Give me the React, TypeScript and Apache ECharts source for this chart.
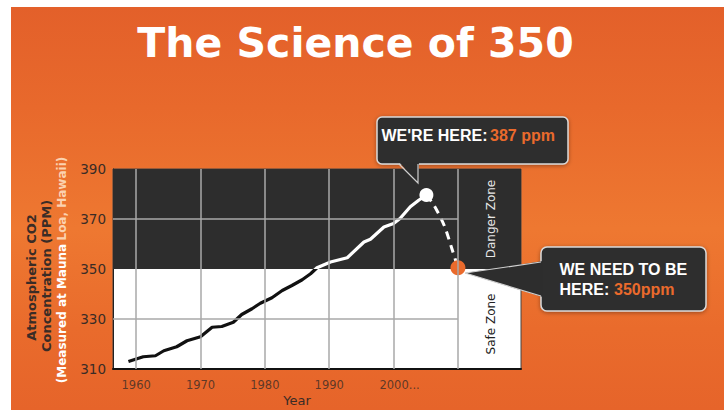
import React, { useEffect, useRef, useState } from 'react';
import * as echarts from 'echarts';

// ---- data ----
const co2Years = [1958.8, 1961.1, 1963.0, 1964.3, 1966.3, 1967.9, 1970.0, 1971.8, 1973.3, 1975.1, 1976.4, 1978.0, 1979.3, 1981.1, 1982.7, 1984.2, 1985.8, 1987.1, 1988.1, 1990.2, 1992.8, 1995.4, 1996.4, 1998.5, 2000.0, 2001.0, 2002.6, 2003.9, 2005.1];
const co2Ppm = [313.0, 314.9, 315.3, 317.3, 318.9, 321.3, 322.9, 326.7, 327.0, 328.7, 331.8, 334.1, 336.3, 338.5, 341.4, 343.4, 345.7, 348.1, 350.5, 352.8, 354.5, 360.8, 361.9, 366.8, 368.2, 370.2, 374.9, 377.5, 379.6];
const projYears = [2005.1, 2006.3, 2007.9, 2009.0, 2010.0];
const projPpm = [379.6, 375.4, 367.2, 358.6, 350.5];
const hereYear = 2005.1;
const herePpm = 379.6;
const targetYear = 2010.0;
const targetPpm = 350.5;
const xLabelYears = [1960, 1970, 1980, 1990, 2000];
const xGridYears = [1960, 1970, 1980, 1990, 2000, 2010];
const yGridValues = [330, 370];
const safeLimit = 350;
const X_MIN = 1956.4;
const X_MAX = 2019.8;
const ZONE_START = 2010;
const Y_MIN = 310;
const Y_MAX = 390;
const Y_STEP = 20;

const titleText = 'The Science of 350';
const hereLabel = "WE'RE HERE:";
const hereValue = '387 ppm';
const needLine1 = 'WE NEED TO BE';
const needLine2 = 'HERE:';
const needValue = '350ppm';

const FONT = '"DejaVu Sans", sans-serif';
const CALLOUT_FONT = '"Liberation Sans", Arial, sans-serif';
const DARK = '#2d2d2d';
const ORANGE = '#ea6a2c';
const LABEL = '#3a2c26';
const W = 724;
const H = 410;

export default function App() {
  const ref = useRef<HTMLDivElement>(null);
  const [err, setErr] = useState('');

  useEffect(() => {
    if (!ref.current) return;
    const chart = echarts.init(ref.current, undefined, { renderer: 'svg' });

    const co2Data = co2Years.map((y, i) => [y, co2Ppm[i]]);
    const projData = projYears.map((y, i) => [y, projPpm[i]]);

    const gridLineData: any[] = [
      ...xGridYears.map((v) => [{ coord: [v, Y_MIN] }, { coord: [v, Y_MAX] }]),
      ...yGridValues.map((v) => [{ coord: [X_MIN, v] }, { coord: [ZONE_START, v] }]),
    ];

    const calloutStroke = { stroke: '#d9d9d9', lineWidth: 1.5 };

    const option: any = {
      animation: false,
      backgroundColor: 'transparent',
      grid: {
        left: 113,
        top: 169,
        width: 408,
        height: 200,
        show: true,
        backgroundColor: '#ffffff',
        borderColor: '#444',
        borderWidth: 1,
      },
      xAxis: {
        type: 'value',
        min: X_MIN,
        max: X_MAX,
        name: 'Year',
        nameLocation: 'middle',
        nameGap: 25,
        nameTextStyle: { fontFamily: FONT, fontSize: 13, color: LABEL, padding: [0, 40, 0, 0] },
        axisLine: { show: true, lineStyle: { color: '#111', width: 2 } },
        axisTick: { show: false },
        splitLine: { show: false },
        axisLabel: { show: false },
      },
      yAxis: {
        type: 'value',
        min: Y_MIN,
        max: Y_MAX,
        interval: Y_STEP,
        axisLine: { show: true, lineStyle: { color: '#222', width: 1 } },
        axisTick: { show: false },
        splitLine: { show: false },
        axisLabel: { margin: 7, fontFamily: FONT, fontSize: 13.5, color: LABEL },
      },
      series: [
        {
          type: 'line',
          data: co2Data,
          z: 1,
          silent: true,
          showSymbol: false,
          lineStyle: { opacity: 0 },
          markArea: {
            silent: true,
            itemStyle: { color: DARK },
            data: [[{ coord: [X_MIN, safeLimit] }, { coord: [X_MAX, Y_MAX] }]],
          },
        },
        {
          type: 'line',
          data: co2Data,
          z: 2,
          silent: true,
          showSymbol: false,
          lineStyle: { opacity: 0 },
          markLine: {
            silent: true,
            symbol: ['none', 'none'],
            label: { show: false },
            lineStyle: { color: '#a9a9a9', width: 1.5, type: 'solid' },
            data: gridLineData,
          },
        },
        {
          id: 'co2',
          type: 'line',
          data: co2Data,
          z: 3,
          showSymbol: false,
          lineStyle: { width: 3.2, color: '#111111' },
        },
        {
          type: 'line',
          data: projData,
          z: 3,
          smooth: 0.3,
          showSymbol: false,
          lineStyle: { width: 3, color: '#ffffff', type: [8, 6] },
        },
        {
          type: 'scatter',
          z: 4,
          data: [
            { value: [hereYear, herePpm], symbolSize: 14, itemStyle: { color: '#ffffff', opacity: 1 } },
            { value: [targetYear, targetPpm], symbolSize: 15, itemStyle: { color: ORANGE, opacity: 1 } },
          ],
        },
        {
          // x-axis tick labels, placed on the axis through the library's scale
          type: 'scatter',
          z: 4,
          silent: true,
          clip: false,
          symbolSize: 1,
          itemStyle: { color: 'rgba(0,0,0,0)' },
          data: xLabelYears.map((y) => [y, Y_MIN]),
          label: {
            show: true,
            position: 'bottom',
            distance: 9,
            fontFamily: FONT,
            fontSize: 11.5,
            color: LABEL,
            formatter: (p: any) => (p.value[0] === 2000 ? '{p|2000...}' : String(p.value[0])),
            rich: { p: { fontFamily: FONT, fontSize: 11.5, color: LABEL, padding: [0, 0, 0, 12] } },
          },
        },
      ],
      graphic: [
        {
          type: 'text',
          x: 355.5,
          y: 42.5,
          z: 10,
          style: {
            text: titleText,
            fill: '#ffffff',
            font: `bold 41px ${FONT}`,
            align: 'center',
            verticalAlign: 'middle',
          },
        },
        {
          type: 'text', x: 31.7, y: 277.5, rotation: Math.PI / 2, z: 10,
          style: { text: 'Atmospheric CO2', fill: LABEL, font: `600 13px ${FONT}`, align: 'center', verticalAlign: 'middle' },
        },
        {
          type: 'text', x: 46.7, y: 276, rotation: Math.PI / 2, z: 10,
          style: { text: 'Concentration (PPM)', fill: LABEL, font: `600 13px ${FONT}`, align: 'center', verticalAlign: 'middle' },
        },
        {
          type: 'text', x: 61.7, y: 270, rotation: Math.PI / 2, z: 10,
          style: {
            text: '{a|(Measured at Mauna} {b|Loa, Hawaii)}',
            align: 'center',
            verticalAlign: 'middle',
            rich: {
              a: { fill: '#ffffff', font: `600 12px ${FONT}` },
              b: { fill: '#fbd2b0', font: `600 12px ${FONT}` },
            },
          },
        },
        {
          type: 'text', x: 491, y: 219, rotation: Math.PI / 2, z: 10,
          style: { text: 'Danger Zone', fill: '#e6e6e6', font: `12px ${FONT}`, align: 'center', verticalAlign: 'middle' },
        },
        {
          type: 'text', x: 491, y: 324, rotation: Math.PI / 2, z: 10,
          style: { text: 'Safe Zone', fill: '#222222', font: `12px ${FONT}`, align: 'center', verticalAlign: 'middle' },
        },
        {
          type: 'rect', z: 20,
          shape: { x: 377, y: 117, width: 191, height: 47, r: 5 },
          style: { fill: DARK, ...calloutStroke, shadowBlur: 4, shadowColor: 'rgba(0,0,0,0.35)', shadowOffsetY: 1 },
        },
        {
          type: 'polygon', z: 21,
          shape: { points: [[399, 162], [419, 162], [418, 183]] },
          style: { fill: DARK },
        },
        {
          type: 'polyline', z: 21,
          shape: { points: [[399, 164], [418, 183], [418, 164]] },
          style: { fill: null, stroke: '#cfcfcf', lineWidth: 1.2 },
        },
        {
          type: 'text', x: 381.5, y: 135.5, z: 22,
          style: { text: hereLabel, fill: '#ffffff', font: `bold 16px ${CALLOUT_FONT}`, align: 'left', verticalAlign: 'middle' },
        },
        {
          type: 'text', x: 490, y: 135.5, z: 22,
          style: { text: hereValue, fill: ORANGE, font: `bold 16px ${CALLOUT_FONT}`, align: 'left', verticalAlign: 'middle' },
        },
        {
          type: 'rect', z: 20,
          shape: { x: 541, y: 247, width: 165, height: 64, r: 6 },
          style: { fill: DARK, ...calloutStroke, shadowBlur: 4, shadowColor: 'rgba(0,0,0,0.35)', shadowOffsetY: 1 },
        },
        {
          type: 'polygon', z: 21,
          shape: { points: [[543, 261], [543, 297], [465, 273]] },
          style: { fill: DARK },
        },
        {
          type: 'polyline', z: 21,
          shape: { points: [[541, 262], [465, 273], [541, 296]] },
          style: { fill: null, stroke: '#d0d0d0', lineWidth: 1.2 },
        },
        {
          type: 'text', x: 559.5, y: 269.7, z: 22,
          style: { text: needLine1, fill: '#ffffff', font: `bold 16px ${CALLOUT_FONT}`, align: 'left', verticalAlign: 'middle' },
        },
        {
          type: 'text', x: 559.5, y: 289.7, z: 22,
          style: { text: needLine2, fill: '#ffffff', font: `bold 16px ${CALLOUT_FONT}`, align: 'left', verticalAlign: 'middle' },
        },
        {
          type: 'text', x: 614, y: 289.7, z: 22,
          style: { text: needValue, fill: ORANGE, font: `bold 16px ${CALLOUT_FONT}`, align: 'left', verticalAlign: 'middle' },
        },
      ],
    };

    try {
      chart.setOption(option);
      // colour the CO2 line white above the safe limit and black below it,
      // splitting at the pixel row that the y axis gives for the limit
      const py = chart.convertToPixel({ yAxisIndex: 0 }, safeLimit) as number;
      const t = Math.min(1, Math.max(0, py / H));
      chart.setOption({
        series: [
          {
            id: 'co2',
            lineStyle: {
              color: new echarts.graphic.LinearGradient(
                0, 0, 0, H,
                [
                  { offset: 0, color: '#ffffff' },
                  { offset: t, color: '#ffffff' },
                  { offset: t, color: '#111111' },
                  { offset: 1, color: '#111111' },
                ],
                true
              ),
            },
          },
        ],
      });
    } catch (e: any) {
      setErr(String(e && e.stack ? e.stack : e).slice(0, 600));
    }
    return () => chart.dispose();
  }, []);

  return (
    <div style={{ position: 'absolute', left: 0, top: 0, width: W, height: H, background: '#ffffff', overflow: 'hidden' }}>
      <div
        style={{
          position: 'absolute',
          left: 11,
          top: 7,
          right: 0,
          bottom: 0,
          background: 'linear-gradient(180deg, #e3602a 0%, #e8692c 25%, #ee7831 55%, #e96b2c 80%, #e6642a 100%)',
        }}
      />
      <div ref={ref} style={{ position: 'absolute', left: 0, top: 0, width: W, height: H }} />
      {err ? <div style={{ position: 'absolute', left: 0, top: 0, fontSize: 10, color: '#000', background: '#fff', width: W }}>{err}</div> : null}
    </div>
  );
}
